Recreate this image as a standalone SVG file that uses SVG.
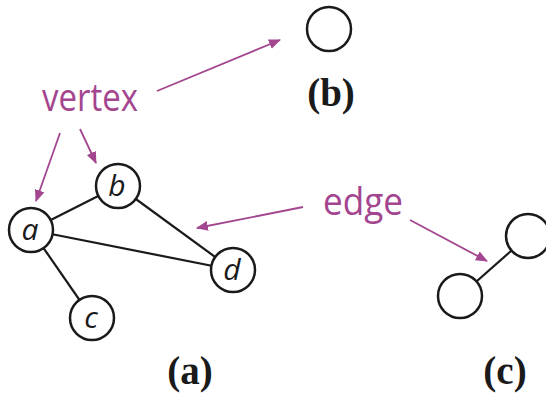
<svg xmlns="http://www.w3.org/2000/svg" width="546" height="398" viewBox="0 0 546 398">
  <style>
    .node { fill: #fff; stroke: #1a1a1a; stroke-width: 2.5; }
    .edge { stroke: #1a1a1a; stroke-width: 2.2; fill: none; }
    .pointer { stroke: #a3468f; stroke-width: 1.8; fill: none; marker-end: url(#head); }
    .term { font-family: "Open Sans", "Liberation Sans", sans-serif; font-size: 39px; fill: #a3468f; }
    .letter { font-family: "Open Sans", "DejaVu Sans", sans-serif; font-style: italic; font-size: 30px; fill: #1a1a1a; text-anchor: middle; }
    .caption { font-family: "Liberation Serif", "Times New Roman", serif; font-weight: bold; font-size: 39px; fill: #1a1a1a; text-anchor: middle; }
  </style>
  <defs>
    <marker id="head" viewBox="0 0 12 10" refX="11" refY="5" markerWidth="12" markerHeight="10" markerUnits="userSpaceOnUse" orient="auto">
      <path d="M0,0 L12,5 L0,10 Z" fill="#a3468f"/>
    </marker>
  </defs>
  <rect width="546" height="398" fill="#fff"/>

  <!-- graph edges -->
  <g id="connectors">
    <line class="edge" x1="31" y1="230" x2="118" y2="186"/>
    <line class="edge" x1="31" y1="230" x2="233" y2="270"/>
    <line class="edge" x1="118" y1="186" x2="233" y2="270"/>
    <line class="edge" x1="31" y1="230" x2="92" y2="318"/>
    <line class="edge" x1="460" y1="296" x2="528" y2="236"/>
    <!-- label pointers -->
    <line class="pointer" x1="157" y1="91" x2="280" y2="40"/>
    <line class="pointer" x1="80" y1="129" x2="96" y2="163"/>
    <line class="pointer" x1="60" y1="133" x2="36" y2="201"/>
    <line class="pointer" x1="303" y1="207" x2="197" y2="228"/>
    <line class="pointer" x1="410" y1="220" x2="487" y2="261"/>
  </g>

  <!-- graph (a) -->
  <g id="node-a">
    <circle class="node" cx="31" cy="230" r="22"/>
    <text class="letter" x="30" y="240">a</text>
  </g>
  <g id="node-b">
    <circle class="node" cx="118" cy="186" r="22"/>
    <text class="letter" x="117" y="196">b</text>
  </g>
  <g id="node-c">
    <circle class="node" cx="92" cy="318" r="22"/>
    <text class="letter" x="91" y="328">c</text>
  </g>
  <g id="node-d">
    <circle class="node" cx="233" cy="270" r="22"/>
    <text class="letter" x="232" y="280">d</text>
  </g>

  <!-- graph (b): single vertex -->
  <g id="node-b-single">
    <circle class="node" cx="329" cy="29" r="22"/>
  </g>

  <!-- graph (c): two vertices, one edge -->
  <g id="node-c1">
    <circle class="node" cx="460" cy="296" r="22"/>
  </g>
  <g id="node-c2">
    <circle class="node" cx="528" cy="236" r="22"/>
  </g>

  <!-- term labels -->
  <g id="label-vertex">
    <text class="term" x="42" y="111" textLength="96" lengthAdjust="spacingAndGlyphs">vertex</text>
  </g>
  <g id="label-edge">
    <text class="term" x="323" y="215" textLength="80" lengthAdjust="spacingAndGlyphs">edge</text>
  </g>

  <!-- captions -->
  <g id="captions">
    <text class="caption" x="331" y="106">(b)</text>
    <text class="caption" x="190" y="384">(a)</text>
    <text class="caption" x="505" y="384">(c)</text>
  </g>
</svg>
